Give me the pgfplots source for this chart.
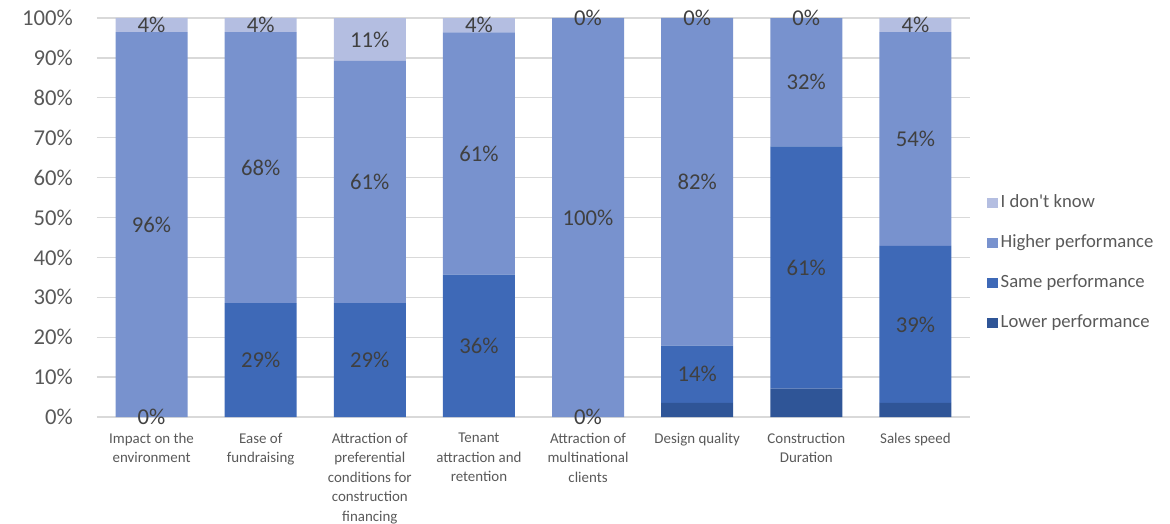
\documentclass[border=0pt]{standalone}
\usepackage{fontspec}
\setmainfont{Carlito}
\usepackage{pgfplots}
\pgfplotsset{compat=1.18}
\definecolor{cLow}{HTML}{2F5597}
\definecolor{cSame}{HTML}{3E69B7}
\definecolor{cHigh}{HTML}{7892CE}
\definecolor{cIdk}{HTML}{B4BEE1}
\definecolor{cgrid}{HTML}{D9D9D9}
\definecolor{ctick}{HTML}{595959}
\definecolor{clab}{HTML}{404040}
\begin{document}
\begin{tikzpicture}
\pgfplotsset{common/.style={scale only axis, width=654.75pt, height=299.25pt,
  xmin=-0.5, xmax=7.5, ymin=0, ymax=100}}
\begin{axis}[common, ybar stacked, bar width=54pt,
  xtick={0,...,7},
  xticklabels={{Impact on the\\environment},{Ease of\\fundraising},{Attraction of\\preferential\\conditions for\\construction\\financing},{Tenant\\attraction and\\retention},{Attraction of\\multinational\\clients},{Design quality},{Construction\\Duration},{Sales speed}},
  xticklabel style={align=center, anchor=north, yshift=-8.5pt,
    font=\fontsize{11.2}{14.6}\selectfont, text=ctick},
  ytick={0,10,...,100},
  yticklabels={0\%,10\%,20\%,30\%,40\%,50\%,60\%,70\%,80\%,90\%,100\%},
  yticklabel style={inner sep=0pt, anchor=east, xshift=-18pt,
    font=\fontsize{17}{20}\selectfont, text=ctick},
  ymajorgrids, grid style={cgrid, line width=1pt},
  axis line style={draw=none}, major tick length=0pt,
  reverse legend, legend cell align=left,
  legend style={at={(1.015,0.386)}, anchor=west, draw=none, fill=none,
    font=\fontsize{14}{16}\selectfont, text=ctick, row sep=13pt,
    nodes={inner sep=2pt, text height=10pt, text depth=3pt}},
  legend image code/.code={\fill[#1] (0pt,-4pt) rectangle (8pt,4pt);},
]
\addplot[fill=cLow, draw=none] coordinates {(0,0) (1,0) (2,0) (3,0) (4,0) (5,3.57) (6,7.14) (7,3.57)};
\addlegendentry{Lower performance}
\addplot[fill=cSame, draw=none] coordinates {(0,0) (1,28.57) (2,28.57) (3,35.71) (4,0) (5,14.29) (6,60.71) (7,39.29)};
\addlegendentry{Same performance}
\addplot[fill=cHigh, draw=none] coordinates {(0,96.43) (1,67.86) (2,60.71) (3,60.71) (4,100) (5,82.14) (6,32.14) (7,53.57)};
\addlegendentry{Higher performance}
\addplot[fill=cIdk, draw=none] coordinates {(0,3.57) (1,3.57) (2,10.71) (3,3.57) (4,0) (5,0) (6,0) (7,3.57)};
\addlegendentry{I don\textquotesingle t know}
\end{axis}
\begin{axis}[common, hide axis,
  nodes near coords, point meta=explicit symbolic,
  every node near coord/.append style={anchor=center, text=clab,
    font=\fontsize{17}{20}\selectfont}]
\addplot[only marks, mark=none] coordinates {
  (0,0) [0\%] (1,14.29) [29\%] (2,14.29) [29\%] (3,17.86) [36\%]
  (4,0) [0\%] (5,10.71) [14\%] (6,37.50) [61\%] (7,23.21) [39\%]};
\addplot[only marks, mark=none] coordinates {
  (0,48.21) [96\%] (1,62.50) [68\%] (2,58.93) [61\%] (3,66.07) [61\%]
  (4,50) [100\%] (5,58.93) [82\%] (6,83.93) [32\%] (7,69.64) [54\%]};
\addplot[only marks, mark=none] coordinates {
  (0,98.21) [4\%] (1,98.21) [4\%] (2,94.64) [11\%] (3,98.21) [4\%]
  (4,100) [0\%] (5,100) [0\%] (6,100) [0\%] (7,98.21) [4\%]};
\end{axis}
\pgfresetboundingbox
\path[use as bounding box] (-72.75pt,-80.25pt) rectangle (804.75pt,312.75pt);
\end{tikzpicture}
\end{document}
